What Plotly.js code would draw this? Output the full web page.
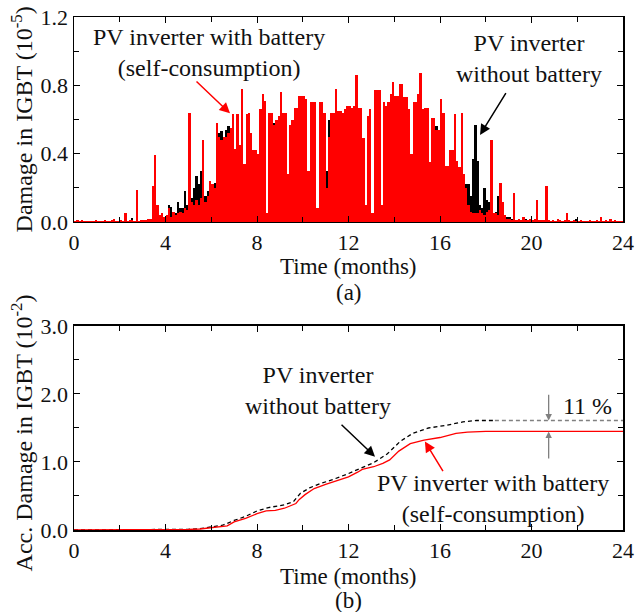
<!DOCTYPE html>
<html>
<head>
<meta charset="utf-8">
<script src="https://cdn.plot.ly/plotly-3.0.1.min.js"></script>
<style>html,body{margin:0;padding:0;background:#fff;}#chart{width:635px;height:612px;}</style>
</head>
<body>
<div id="chart"></div>
<script>
// ---- Data ----
// (a) damage per 0.1-month bin, units 1e-5
const binWidthMonths = 0.1;
const damageWithBattery = [
0.004,0.012,0.006,0.010,0.003,0.005,0.008,0.004,0.006,0.010,
0.005,0.008,0.004,0.012,0.006,0.005,0.009,0.018,0.006,0.008,
0.010,0.006,0.050,0.008,0.010,0.012,0.006,0.190,0.008,0.010,
0.010,0.012,0.020,0.015,0.210,0.390,0.100,0.040,0.050,0.030,
0.040,0.080,0.030,0.060,0.040,0.050,0.060,0.050,0.080,0.070,
0.640,0.120,0.100,0.130,0.100,0.140,0.480,0.120,0.150,0.240,
0.220,0.200,0.580,0.500,0.480,0.500,0.500,0.520,0.550,0.630,
0.430,0.630,0.450,0.780,0.340,0.630,0.640,0.520,0.420,0.420,
0.400,0.660,0.750,0.710,0.050,0.640,0.640,0.570,0.600,0.620,
0.760,0.640,0.640,0.280,0.570,0.600,0.670,0.670,0.740,0.740,
0.740,0.720,0.300,0.700,0.700,0.700,0.080,0.700,0.700,0.640,
0.200,0.500,0.640,0.640,0.780,0.650,0.650,0.640,0.660,0.680,
0.680,0.670,0.680,0.860,0.670,0.670,0.490,0.100,0.620,0.660,
0.050,0.770,0.770,0.770,0.100,0.700,0.680,0.700,0.750,0.820,
0.740,0.740,0.810,0.810,0.730,0.730,0.660,0.400,0.700,0.700,
0.750,0.870,0.660,0.670,0.670,0.350,0.610,0.610,0.540,0.540,
0.720,0.640,0.330,0.330,0.420,0.420,0.630,0.360,0.320,0.640,
0.280,0.200,0.100,0.060,0.050,0.050,0.050,0.070,0.050,0.040,
0.060,0.070,0.480,0.050,0.050,0.040,0.230,0.120,0.040,0.020,
0.020,0.010,0.170,0.010,0.020,0.010,0.030,0.010,0.010,0.020,
0.010,0.020,0.130,0.010,0.010,0.010,0.210,0.010,0.005,0.010,
0.005,0.020,0.010,0.005,0.010,0.050,0.010,0.005,0.010,0.005,
0.005,0.010,0.005,0.008,0.005,0.010,0.005,0.005,0.010,0.005,
0.030,0.005,0.010,0.005,0.020,0.005,0.010,0.005,0.005,0.008
];
const damageWithoutBattery = [
0.004,0.012,0.006,0.010,0.003,0.005,0.008,0.004,0.006,0.010,
0.005,0.008,0.004,0.012,0.006,0.005,0.009,0.018,0.006,0.008,
0.010,0.006,0.050,0.008,0.010,0.025,0.006,0.190,0.008,0.010,
0.010,0.012,0.020,0.020,0.210,0.390,0.100,0.040,0.050,0.030,
0.040,0.100,0.090,0.060,0.050,0.120,0.080,0.080,0.180,0.100,
0.120,0.140,0.200,0.270,0.220,0.300,0.300,0.150,0.180,0.220,
0.220,0.230,0.500,0.520,0.530,0.450,0.540,0.560,0.500,0.550,
0.430,0.630,0.450,0.780,0.340,0.630,0.640,0.520,0.420,0.420,
0.400,0.660,0.750,0.710,0.050,0.640,0.640,0.580,0.600,0.620,
0.760,0.640,0.640,0.280,0.570,0.600,0.670,0.670,0.740,0.740,
0.740,0.720,0.300,0.700,0.700,0.700,0.080,0.700,0.700,0.640,
0.300,0.600,0.640,0.640,0.780,0.650,0.650,0.640,0.660,0.680,
0.680,0.670,0.680,0.860,0.670,0.670,0.490,0.100,0.620,0.660,
0.050,0.770,0.770,0.770,0.100,0.700,0.680,0.700,0.750,0.820,
0.740,0.740,0.810,0.810,0.730,0.730,0.660,0.400,0.700,0.700,
0.750,0.870,0.660,0.670,0.670,0.350,0.610,0.610,0.560,0.540,
0.720,0.640,0.330,0.330,0.420,0.420,0.630,0.360,0.320,0.640,
0.280,0.220,0.220,0.150,0.370,0.570,0.360,0.100,0.080,0.200,
0.130,0.120,0.100,0.050,0.060,0.150,0.170,0.050,0.040,0.030,
0.030,0.020,0.020,0.010,0.020,0.010,0.030,0.020,0.010,0.020,
0.010,0.020,0.130,0.010,0.010,0.010,0.210,0.010,0.005,0.010,
0.005,0.020,0.010,0.005,0.010,0.050,0.010,0.005,0.010,0.020,
0.005,0.010,0.005,0.008,0.005,0.010,0.005,0.005,0.010,0.005,
0.030,0.005,0.010,0.005,0.020,0.005,0.010,0.005,0.005,0.008
];

// (b) accumulated damage, units 1e-2
const accTimeWith = [0,2,4,5,5.5,6,6.5,6.7,7,7.5,8,8.4,8.8,9.2,9.7,9.85,10.1,10.5,11,11.4,12,12.4,12.6,13.1,13.5,13.8,14.2,14.7,15.3,16,16.7,17.2,18,24];
const accWith     = [0,0.001,0.003,0.008,0.015,0.03,0.05,0.06,0.12,0.17,0.24,0.28,0.29,0.32,0.39,0.45,0.52,0.61,0.67,0.71,0.78,0.85,0.89,0.93,0.98,1.03,1.16,1.27,1.32,1.36,1.42,1.44,1.45,1.45];
const accTimeWithout = [0,4,5,5.5,6,6.5,7,7.5,8,8.5,9.2,9.6,9.9,10.3,10.75,11.3,12,12.5,13.1,13.7,14.25,14.8,15.5,16.3,17,17.6,18.4];
const accWithout     = [0,0.004,0.01,0.02,0.04,0.07,0.14,0.2,0.28,0.33,0.37,0.42,0.54,0.62,0.68,0.74,0.83,0.9,0.99,1.12,1.3,1.42,1.5,1.54,1.59,1.61,1.61];

const xTicks = [0,4,8,12,16,20,24];
const yTicksA = [0,0.4,0.8,1.2];
const yTicksB = [0,1,2,3];

// ---- Build ----
const binCenters = damageWithBattery.map((_, i) => (i + 0.5) * binWidthMonths);
const FONT = '"Liberation Serif", "Times New Roman", Times, serif';
const TXT = '#111';

const traces = [
  {type:'bar', x:binCenters, y:damageWithoutBattery, width:binWidthMonths, marker:{color:'#000', line:{width:0}}, xaxis:'x', yaxis:'y', hoverinfo:'skip'},
  {type:'bar', x:binCenters, y:damageWithBattery, width:binWidthMonths, marker:{color:'#ff0000', line:{width:0}}, xaxis:'x', yaxis:'y', hoverinfo:'skip'},
  {type:'scatter', mode:'lines', x:accTimeWithout, y:accWithout, line:{color:'#000', width:1.3, dash:'4px,3px'}, xaxis:'x2', yaxis:'y2'},
  {type:'scatter', mode:'lines', x:accTimeWith, y:accWith, line:{color:'#ff0000', width:1.3}, xaxis:'x2', yaxis:'y2'}
];

function xAx(anchor){
  return {anchor:anchor, domain:[0,1], range:[0,24], tickvals:xTicks, ticktext:xTicks.map(String),
    ticks:'inside', ticklen:6, tickwidth:1, tickcolor:'#000',
    minor:{dtick:2, tick0:0, ticks:'inside', ticklen:5, tickcolor:'#000', showgrid:false},
    showline:true, linecolor:'#000', linewidth:1.5, mirror:'ticks', showgrid:false, zeroline:false,
    tickfont:{family:FONT, size:22, color:TXT}, fixedrange:true};
}
function yAx(anchor, domain, range, vals, minorStep){
  return {anchor:anchor, domain:domain, range:range, tickvals:vals, ticktext:vals.map(v=>v.toFixed(1)),
    ticks:'inside', ticklen:6, tickwidth:1, tickcolor:'#000',
    minor:{dtick:minorStep, tick0:0, ticks:'inside', ticklen:5, tickcolor:'#000', showgrid:false},
    showline:true, linecolor:'#000', linewidth:1.5, mirror:'ticks', showgrid:false, zeroline:false,
    tickfont:{family:FONT, size:22, color:TXT}, fixedrange:true};
}

const lastWithout = accWithout[accWithout.length-1];
const lastWith = accWith[accWith.length-1];
const gapX = 20.75;

function txt(text, x, y, xref, yref, extra){
  return Object.assign({text:text, x:x, y:y, xref:xref, yref:yref, showarrow:false,
    font:{family:FONT, size:24, color:TXT}, xanchor:'center', yanchor:'middle'}, extra||{});
}
function arrow(x, y, ax, ay, xr, yr, color, head, size, w){
  return {text:'', x:x, y:y, ax:ax, ay:ay, xref:xr, yref:yr, axref:xr, ayref:yr, showarrow:true,
    arrowcolor:color, arrowhead:head, arrowsize:size, arrowwidth:w, standoff:0, startstandoff:0};
}
const smallTitle = {font:{family:FONT, size:23, color:TXT}};

const annotations = [
  txt('PV inverter with battery<br>(self-consumption)', 5.9, 0.995, 'x', 'y'),
  arrow(6.82, 0.636, 5.29, 0.831, 'x', 'y', '#ff0000', 2, 1.4, 1.5),
  txt('PV inverter<br>without battery', 19.89, 0.96, 'x', 'y'),
  arrow(17.75, 0.509, 18.92, 0.763, 'x', 'y', '#000', 2, 1.4, 1.5),
  txt('PV inverter<br>without battery', 10.67, 2.045, 'x2', 'y2'),
  arrow(13.16, 1.078, 11.63, 1.569, 'x2', 'y2', '#000', 2, 1.4, 1.5),
  txt('PV inverter with battery<br>(self-consumption)', 18.3, 0.47, 'x2', 'y2'),
  arrow(15.34, 1.30, 16.17, 0.843, 'x2', 'y2', '#ff0000', 2, 1.4, 1.5),
  arrow(gapX, lastWithout, gapX, 2.01, 'x2', 'y2', '#808080', 2, 1.0, 1.3),
  arrow(gapX, lastWith, gapX, 1.03, 'x2', 'y2', '#808080', 2, 1.0, 1.3),
  txt('11 %', 22.45, 1.82, 'x2', 'y2'),
  txt('Time (months)', 0.5, 0.5127, 'paper', 'paper', smallTitle),
  txt('(a)', 0.5, 0.4639, 'paper', 'paper', smallTitle),
  txt('Time (months)', 0.5, -0.0897, 'paper', 'paper', smallTitle),
  txt('(b)', 0.5, -0.1384, 'paper', 'paper', smallTitle),
  txt('Damage in IGBT (10<sup>-5</sup>)', -0.095, 0.80, 'paper', 'paper', {textangle:-90}),
  txt('Acc. Damage in IGBT (10<sup>-2</sup>)', -0.095, 0.19, 'paper', 'paper', {textangle:-90})
];

const layout = {
  width:635, height:612,
  margin:{l:74, r:12, t:17, b:82, pad:0},
  paper_bgcolor:'#fff', plot_bgcolor:'#fff',
  showlegend:false, barmode:'overlay', bargap:0,
  font:{family:FONT, size:22, color:TXT},
  xaxis:xAx('y'),
  yaxis:yAx('x', [0.6004, 1], [0, 1.2], yTicksA, 0.2),
  xaxis2:xAx('y2'),
  yaxis2:yAx('x2', [0, 0.3977], [0, 3], yTicksB, 0.5),
  shapes:[
    {type:'line', xref:'x2', yref:'y2', x0:accTimeWithout[accTimeWithout.length-1], x1:24, y0:lastWithout, y1:lastWithout,
     line:{color:'#808080', width:1.3, dash:'4px,3px'}}
  ],
  annotations:annotations
};

Plotly.newPlot('chart', traces, layout, {staticPlot:true, displayModeBar:false});
</script>
</body>
</html>
